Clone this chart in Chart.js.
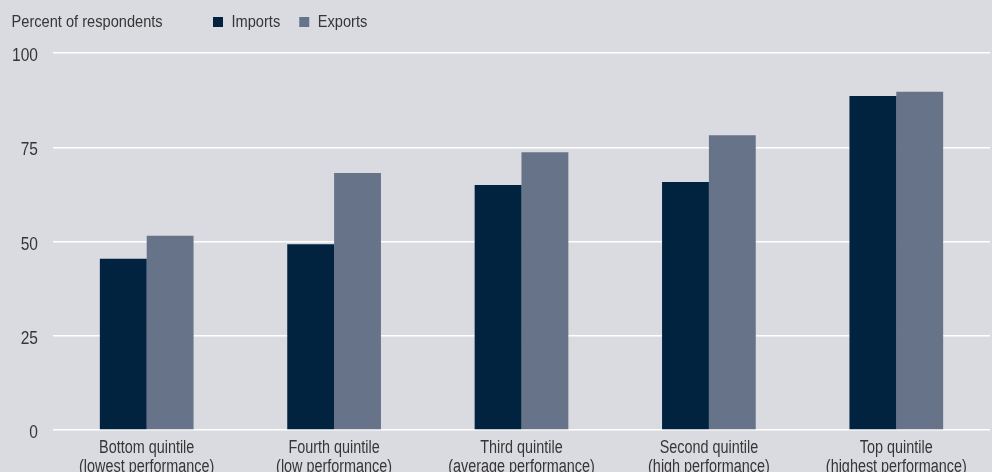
<!DOCTYPE html>
<html>
<head>
<meta charset="utf-8">
<script src="https://cdn.jsdelivr.net/npm/chart.js@4/dist/chart.umd.min.js"></script>
<style>
  html, body { margin: 0; padding: 0; background: #dadbe0; }
  #wrap { position: relative; width: 992px; height: 472px; }
</style>
</head>
<body>
<div id="wrap"><canvas id="c" width="992" height="472"></canvas></div>
<script>
// Quintile groups (two-line labels)
const categories = [
  ["Bottom quintile", "(lowest performance)"],
  ["Fourth quintile", "(low performance)"],
  ["Third quintile", "(average performance)"],
  ["Second quintile", "(high performance)"],
  ["Top quintile", "(highest performance)"]
];
const importsValues = [45.4, 49.3, 65.0, 65.8, 88.6];
const exportsValues = [51.5, 68.2, 73.7, 78.2, 89.7];
const yTicks = [0, 25, 50, 75, 100];
const axisTitle = "Percent of respondents";

const FONT = '"Liberation Sans", Arial, sans-serif';
const TEXT = '#363636';

// Condensed text: regular face squeezed horizontally
function drawText(ctx, str, x, y, size, sx, align) {
  ctx.save();
  ctx.font = size + 'px ' + FONT;
  ctx.fillStyle = TEXT;
  ctx.textBaseline = 'alphabetic';
  ctx.textAlign = align;
  ctx.translate(x, y);
  ctx.scale(sx, 1);
  ctx.fillText(str, 0, 0);
  ctx.restore();
}
function textWidth(ctx, str, size, sx) {
  ctx.save();
  ctx.font = size + 'px ' + FONT;
  const w = ctx.measureText(str).width * sx;
  ctx.restore();
  return w;
}

// Caption, legend and axis labels
const labelsPlugin = {
  id: 'labels',
  afterDraw(chart) {
    const ctx = chart.ctx;
    // caption
    drawText(ctx, axisTitle, 11.5, 27, 17, 0.86, 'left');
    // legend
    let x = 213;
    chart.data.datasets.forEach(ds => {
      ctx.fillStyle = ds.backgroundColor;
      ctx.fillRect(x, 17, 10, 10);
      drawText(ctx, ds.label, x + 18.5, 27, 17, 0.86, 'left');
      x += 18.5 + textWidth(ctx, ds.label, 17, 0.86) + 19;
    });
    // y tick labels
    const ys = chart.scales.y;
    yTicks.forEach(v => {
      drawText(ctx, String(v), 38, ys.getPixelForValue(v) + 8, 18.5, 0.84, 'right');
    });
    // x category labels
    const xs = chart.scales.x;
    categories.forEach((lines, i) => {
      const cx = xs.getPixelForValue(i);
      lines.forEach((ln, j) => {
        drawText(ctx, ln, cx, 453 + j * 18.5, 18, 0.8, 'center');
      });
    });
  }
};

new Chart(document.getElementById('c'), {
  type: 'bar',
  data: {
    labels: categories,
    datasets: [
      { label: 'Imports', data: importsValues, backgroundColor: '#012340' },
      { label: 'Exports', data: exportsValues, backgroundColor: '#667389' }
    ]
  },
  options: {
    responsive: false,
    animation: false,
    devicePixelRatio: 1,
    layout: { padding: { top: 53, right: 2, left: 0, bottom: 0 } },
    datasets: { bar: { categoryPercentage: 0.5, barPercentage: 1.0 } },
    plugins: {
      legend: { display: false },
      tooltip: { enabled: false }
    },
    scales: {
      x: {
        grid: { display: false, drawTicks: false },
        border: { display: false },
        ticks: { display: false },
        afterFit(scale) { scale.height = 42; }
      },
      y: {
        min: 0,
        max: 100,
        afterBuildTicks(scale) { scale.ticks = yTicks.map(v => ({ value: v })); },
        grid: { color: '#ffffff', lineWidth: 1.5, drawTicks: false },
        border: { display: false },
        ticks: { display: false },
        afterFit(scale) { scale.width = 53; }
      }
    }
  },
  plugins: [labelsPlugin]
});
</script>
</body>
</html>
